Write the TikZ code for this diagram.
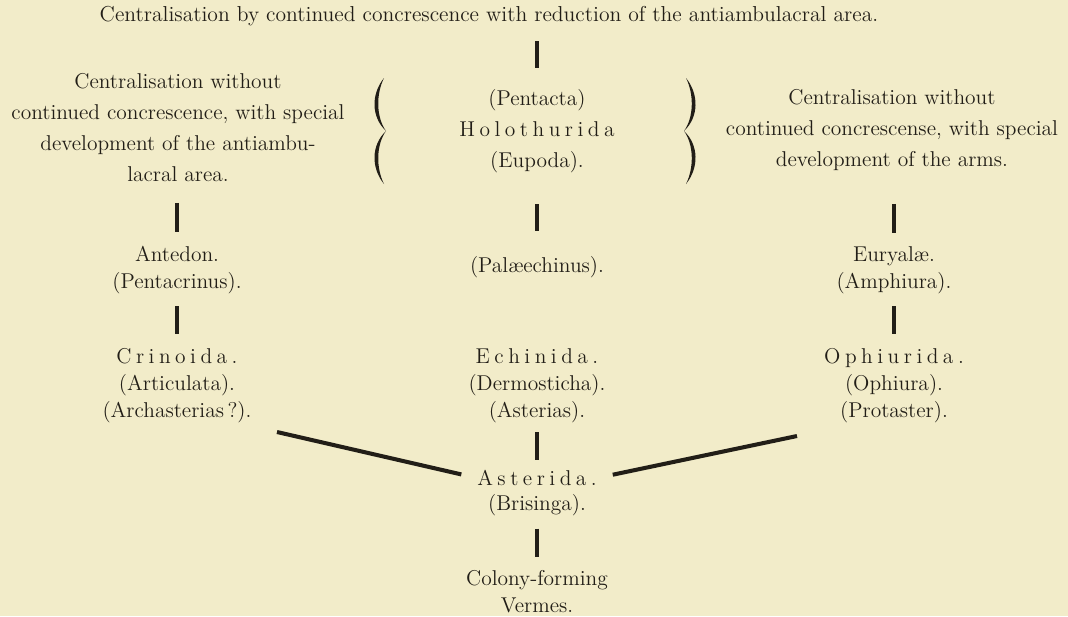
\documentclass[tikz,border=0pt]{standalone}
\usepackage{fontspec}
\usepackage{tikz}
\usetikzlibrary{calc,positioning}
\definecolor{paper}{RGB}{242,236,201}
\definecolor{ink}{RGB}{34,30,23}
\newcommand{\wide}{\addfontfeatures{WordSpace=1.35}}
% letter-spaced names
\makeatletter
\def\spaced#1{\spaced@#1\@nil}
\def\spaced@#1#2\@nil{#1\ifx\relax#2\relax\else\kern0.21em\spaced@#2\@nil\fi}
\makeatother

\begin{document}
\begin{tikzpicture}[x=0.02cm, y=-0.02cm,
    txt/.style={font=\fontsize{12.2}{15.4}\selectfont\wide,
      text=ink, align=center, inner sep=0pt},
    loose/.style={txt, font=\fontsize{12.2}{17.6}\selectfont\wide},
    headline/.style={txt, font=\fontsize{12.3}{14}\selectfont},
    bar/.style={draw=ink, line width=2.3pt},
    stem/.style 2 args={bar, shorten <=#1, shorten >=#2},
    curly/.pic={
      \fill[ink] (0,-53) .. controls (-13,-37) and (-13,-14) .. (2,0)
        .. controls (-13,14) and (-13,37) .. (0,53)
        .. controls (-8,37) and (-8,14) .. (2,0)
        .. controls (-8,-14) and (-8,-37) .. (0,-53) -- cycle;
    }]
  % Paper
  \fill[paper] (0,0) rectangle (1068,616);

  % Top line and the three groups
  \node[headline] (title) at (489,16)
    {Centralisation by continued concrescence with reduction of the antiambulacral area.};
  \node[loose, anchor=north] (lb) at (178,73)
    {Centralisation without\\continued concrescence, with special\\development of the antiambu-\\lacral area.};
  \node[loose, anchor=north] (hb) at (537,89)
    {(Pentacta)\\{\spaced{Holothurida}}\\(Eupoda).};
  \node[loose, anchor=north] (rb) at (892,89)
    {Centralisation without\\continued concrescense, with special\\development of the arms.};
  \pic at (384,131) {curly};
  \pic[xscale=-1] at (686,131) {curly};

  % Second row
  \node[txt, anchor=north] (ant) at (177,246) {Antedon.\\(Pentacrinus).};
  \node[txt] (pal) at (537,267) {(Palæechinus).};
  \node[txt, anchor=north] (eur) at (894,246) {Euryalæ.\\(Amphiura).};

  % Third row
  \node[txt, anchor=north] (cri) at (177,348)
    {{\spaced{Crinoida.}}\\(Articulata).\\(Archasterias\,?).};
  \node[txt, anchor=north] (ech) at (537,348)
    {{\spaced{Echinida.}}\\(Dermosticha).\\(Asterias).};
  \node[txt, anchor=north] (oph) at (894,348)
    {{\spaced{Ophiurida.}}\\(Ophiura).\\(Protaster).};

  % Stem
  \node[txt] (ast) at (537,478) {\spaced{Asterida.}};
  \node[txt] (bri) at (537,505) {(Brisinga).};
  \node[txt, anchor=north] (col) at (537,570) {Colony-forming\\Vermes.};
  \coordinate (lfork) at (277,432);
  \coordinate (rfork) at (797,436);

  % Bars
  \draw[stem={0.3cm}{0.42cm}] (title.south -| hb.north) -- (hb.north);
  \draw[stem={0.42cm}{0.28cm}] (lb.south -| ant.north) -- (ant.north);
  \draw[stem={0.62cm}{0.5cm}] (hb.south) -- (pal.north);
  \draw[stem={0.66cm}{0.26cm}] (rb.south -| eur.north) -- (eur.north);
  \draw[stem={0.24cm}{0.28cm}] (ant.south) -- (cri.north);
  \draw[stem={0.24cm}{0.28cm}] (eur.south) -- (oph.north);
  \draw[stem={0.18cm}{0.2cm}] (ech.south) -- (ast.north);
  \draw[stem={0.25cm}{0.26cm}] (bri.south) -- (col.north);
  \draw[stem={0cm}{0.32cm}] (lfork) -- (ast.west);
  \draw[stem={0cm}{0.32cm}] (rfork) -- (ast.east);
\end{tikzpicture}
\end{document}
